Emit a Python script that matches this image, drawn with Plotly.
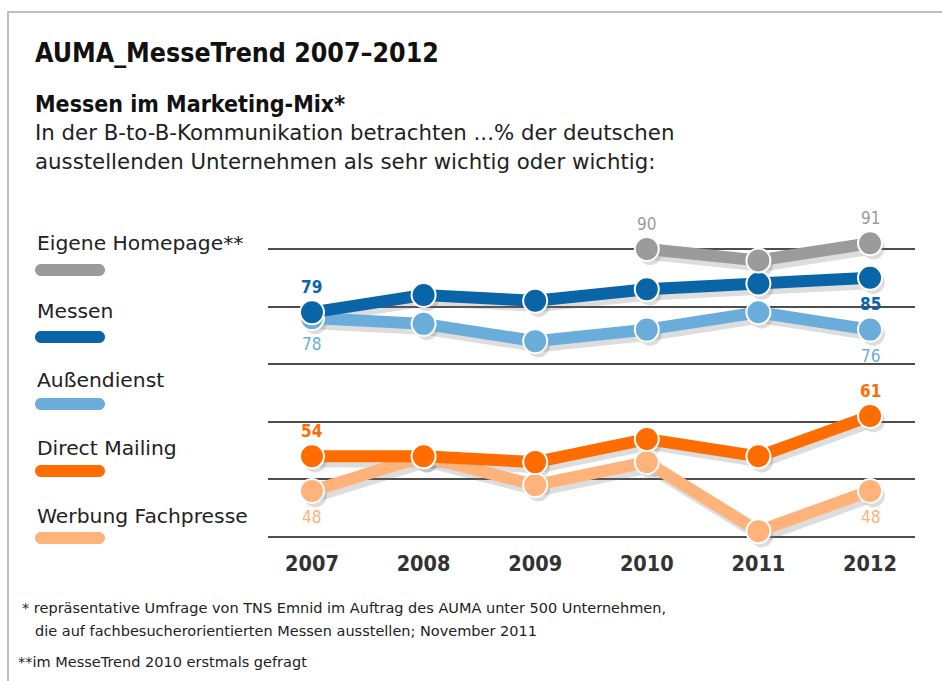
import plotly.graph_objects as go

W, H = 942, 681
FONT = "DejaVu Sans, Verdana, sans-serif"
FONT_C = "DejaVu Sans Condensed, DejaVu Sans, sans-serif"

years = [2007, 2008, 2009, 2010, 2011, 2012]
year_labels = ["2007", "2008", "2009", "2010", "2011", "2012"]

series_names = ["Eigene Homepage**", "Messen", "Außendienst", "Direct Mailing", "Werbung Fachpresse"]
homepage = [None, None, None, 90, 88, 91]
messen = [79, 82, 81, 83, 84, 85]
aussendienst = [78, 77, 74, 76, 79, 76]
direct_mailing = [54, 54, 53, 57, 54, 61]
fachpresse = [48, 54, 49, 53, 41, 48]
colors = ["#9b9b9b", "#0a64a8", "#6aaddb", "#ff6c00", "#ffb27a"]
label_colors = ["#9b9b9b", "#0a64a8", "#6aaddb", "#ff6c00", "#ffb27a"]

values = [homepage, messen, aussendienst, direct_mailing, fachpresse]

# (series index, year index, side, bold)
value_labels = [
    (0, 3, "above", False), (0, 5, "above", False),
    (1, 0, "above", True), (1, 5, "below", True),
    (2, 0, "below", False), (2, 5, "below", False),
    (3, 0, "above", True), (3, 5, "above", True),
    (4, 0, "below", False), (4, 5, "below", False),
]

fig = go.Figure()

draw_order = [4, 2, 3, 1, 0]

# soft shadows under the lines
for i in draw_order:
    xs = [x + 0.03 for x in years]
    ys = [None if v is None else v - 0.8 for v in values[i]]
    fig.add_trace(go.Scatter(
        x=xs, y=ys, mode="lines+markers",
        line=dict(color="rgba(120,120,120,0.25)", width=13),
        marker=dict(size=23, color="rgba(120,120,120,0.25)"),
        hoverinfo="skip", showlegend=False, cliponaxis=False,
    ))

for i in draw_order:
    fig.add_trace(go.Scatter(
        x=years, y=values[i], mode="lines+markers", name=series_names[i],
        line=dict(color=colors[i], width=12),
        marker=dict(size=24, color=colors[i], line=dict(color="white", width=2)),
        showlegend=False, cliponaxis=False,
    ))

for si, yi, side, bold in value_labels:
    v = values[si][yi]
    txt = f"<b>{v}</b>" if bold else str(v)
    fig.add_annotation(
        x=years[yi], y=v, text=txt, showarrow=False,
        yshift=25 if side == "above" else -26,
        font=dict(family=FONT_C, size=17, color=label_colors[si]),
    )

# plot geometry (pixels)
x_left_px, x_right_px = 268, 915
y_top_px, y_bot_px = 231.7, 548.5

fig.update_xaxes(
    domain=[x_left_px / W, x_right_px / W],
    range=[2006.606, 2012.403],
    tickvals=years, ticktext=[f"<b>{t}</b>" for t in year_labels],
    showgrid=False, zeroline=False, showline=False, ticks="",
    tickfont=dict(family=FONT_C, size=21.5, color="#333"),
)
fig.update_yaxes(
    domain=[1 - y_bot_px / H, 1 - y_top_px / H],
    range=[38, 93],
    tickvals=[40, 50, 60, 70, 80, 90],
    showticklabels=False, showgrid=True, gridcolor="#4d4d4d", gridwidth=1.6,
    zeroline=False, showline=False,
)

# frame
fig.add_shape(type="rect", xref="paper", yref="paper",
              x0=8 / W, x1=1.05, y0=-0.05, y1=1 - 12 / H,
              line=dict(color="#aaaaaa", width=1.5), layer="below")

def txt(x, y, s, size, bold=False, color="#222", family=FONT):
    fig.add_annotation(x=x / W, y=1 - y / H, xref="paper", yref="paper",
                       xanchor="left", yanchor="middle", showarrow=False,
                       text=f"<b>{s}</b>" if bold else s,
                       font=dict(family=family, size=size, color=color))

txt(33, 52, "AUMA_MesseTrend 2007–2012", 26.5, bold=True, color="#111", family=FONT_C)
txt(33, 104, "Messen im Marketing-Mix*", 23, bold=True, color="#111", family=FONT_C)
txt(33, 133, "In der B-to-B-Kommunikation betrachten ...% der deutschen", 21.3)
txt(33, 161, "ausstellenden Unternehmen als sehr wichtig oder wichtig:", 21.3)

# legend
legend_label_y = [243, 311, 380, 448, 516]
legend_bar_y = [270, 337, 404, 471, 538]
for i, name in enumerate(series_names):
    txt(35, legend_label_y[i], name, 20.3, color="#222")
    cy = 1 - legend_bar_y[i] / H
    r, half = 6, 35
    k = 0.5523 * r
    path = (f"M {-half + r},{-r} L {half - r},{-r} "
            f"C {half - r + k},{-r} {half},{-k} {half},0 "
            f"C {half},{k} {half - r + k},{r} {half - r},{r} "
            f"L {-half + r},{r} "
            f"C {-half + r - k},{r} {-half},{k} {-half},0 "
            f"C {-half},{-k} {-half + r - k},{-r} {-half + r},{-r} Z")
    fig.add_shape(type="path", xref="paper", yref="paper",
                  xsizemode="pixel", ysizemode="pixel",
                  xanchor=70 / W, yanchor=cy, path=path,
                  fillcolor=colors[i], line=dict(width=0))

txt(20, 608, "* repräsentative Umfrage von TNS Emnid im Auftrag des AUMA unter 500 Unternehmen,", 14.5)
txt(33, 631, "die auf fachbesucherorientierten Messen ausstellen; November 2011", 14.5)
txt(16, 662, "**im MesseTrend 2010 erstmals gefragt", 14.5)

fig.update_layout(
    width=W, height=H,
    margin=dict(l=0, r=0, t=0, b=0),
    paper_bgcolor="white", plot_bgcolor="white",
    font=dict(family=FONT),
)

fig.write_html("out.html")
